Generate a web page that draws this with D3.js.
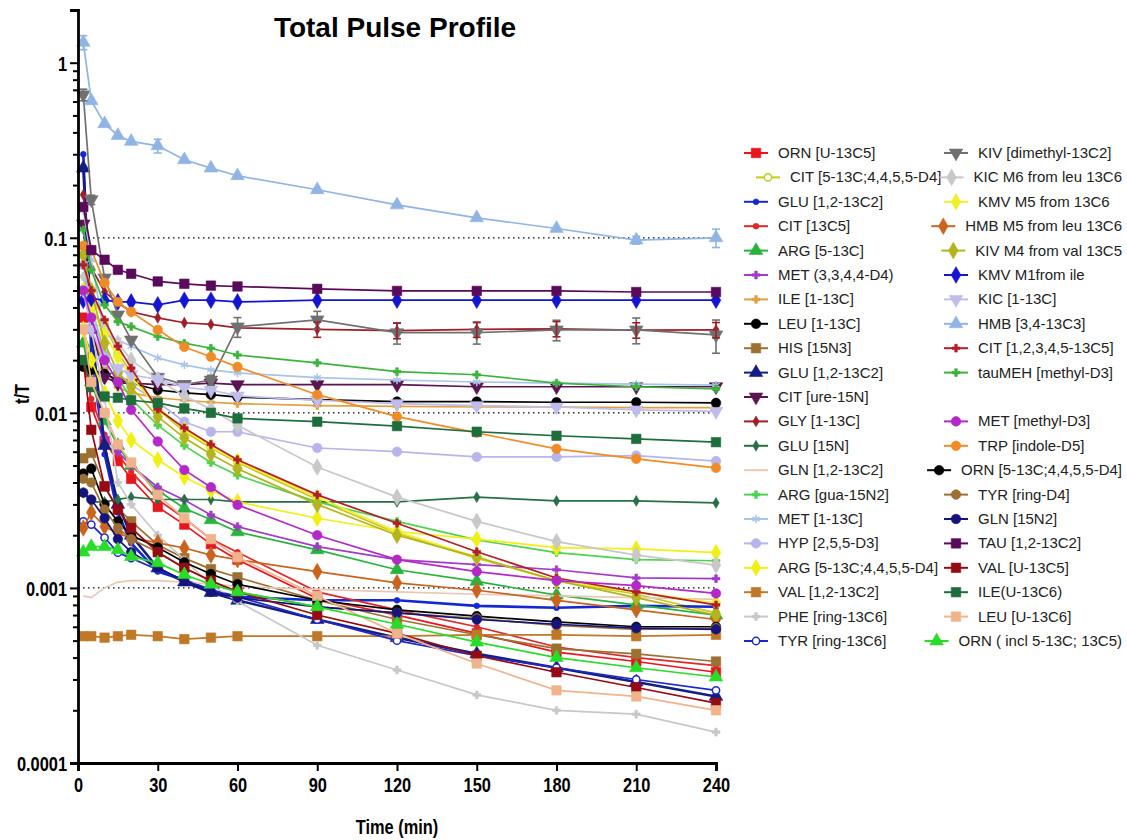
<!DOCTYPE html>
<html>
<head>
<meta charset="utf-8">
<script src="https://cdn.jsdelivr.net/npm/d3@7/dist/d3.min.js"></script>
<style>
  body { margin: 0; background: #fff; }
  text { font-family: 'Liberation Sans', Arial, sans-serif; }
</style>
</head>
<body>
<svg id="chart" width="1127" height="840"></svg>
<script>
const times = [2, 5, 10, 15, 20, 30, 40, 50, 60, 90, 120, 150, 180, 210, 240];
const xTicks = [0, 30, 60, 90, 120, 150, 180, 210, 240];
const yTicks = [0.0001, 0.001, 0.01, 0.1, 1];
const yTickLabels = ['0.0001', '0.001', '0.01', '0.1', '1'];
const refLines = [0.1, 0.01, 0.001];

const seriesNames = [
  'ORN [U-13C5]', 'CIT [5-13C;4,4,5,5-D4]', 'GLU [1,2-13C2]', 'CIT [13C5]',
  'ARG [5-13C]', 'MET (3,3,4,4-D4)', 'ILE [1-13C]', 'LEU [1-13C]',
  'HIS [15N3]', 'GLU [1,2-13C2]', 'CIT [ure-15N]', 'GLY [1-13C]',
  'GLU [15N]', 'GLN [1,2-13C2]', 'ARG [gua-15N2]', 'MET [1-13C]',
  'HYP [2,5,5-D3]', 'ARG [5-13C;4,4,5,5-D4]', 'VAL [1,2-13C2]',
  'PHE [ring-13C6]', 'TYR [ring-13C6]',
  'KIV [dimethyl-13C2]', 'KIC M6 from leu 13C6', 'KMV M5 from 13C6',
  'HMB M5 from leu 13C6', 'KIV M4 from val 13C5', 'KMV M1from ile',
  'KIC [1-13C]', 'HMB [3,4-13C3]', 'CIT [1,2,3,4,5-13C5]',
  'tauMEH [methyl-D3]', 'MET [methyl-D3]', 'TRP [indole-D5]',
  'ORN [5-13C;4,4,5,5-D4]', 'TYR [ring-D4]', 'GLN [15N2]',
  'TAU [1,2-13C2]', 'VAL [U-13C5]', 'ILE(U-13C6)', 'LEU [U-13C6]',
  'ORN ( incl 5-13C; 13C5)',
];

// t/T values, one row per series, same order as seriesNames
const seriesValues = [
  [0.035, 0.0108, 0.0069, 0.0053, 0.0042, 0.0029, 0.0023, 0.00178, 0.00145, 0.00087, 0.0007, 0.00055, 0.00043, 0.00038, 0.00033],
  [0.07, 0.05, 0.032, 0.022, 0.017, 0.0105, 0.0078, 0.0063, 0.0052, 0.0032, 0.00205, 0.00148, 0.0011, 0.00092, 0.00072],
  [0.3, 0.022, 0.0058, 0.0027, 0.0018, 0.00124, 0.00111, 0.00097, 0.00089, 0.00085, 0.00085, 0.00079, 0.00077, 0.00079, 0.00078],
  [0.02, 0.012, 0.0075, 0.0058, 0.0046, 0.0032, 0.0025, 0.0019, 0.0016, 0.00095, 0.00075, 0.0006, 0.00046, 0.0004, 0.00036],
  [0.025, 0.015, 0.009, 0.0065, 0.005, 0.0036, 0.00285, 0.00245, 0.00209, 0.00165, 0.00127, 0.00109, 0.00091, 0.0008, 0.0007],
  [0.03, 0.02, 0.0072, 0.006, 0.005, 0.00376, 0.00318, 0.00261, 0.00224, 0.00172, 0.00145, 0.00136, 0.00127, 0.00114, 0.00113],
  [0.08, 0.03, 0.018, 0.014, 0.013, 0.0122, 0.0118, 0.0115, 0.0113, 0.011, 0.0109, 0.0108, 0.0108, 0.0107, 0.0107],
  [0.0183, 0.0176, 0.0167, 0.0154, 0.0148, 0.0135, 0.013, 0.0127, 0.0123, 0.0119, 0.0116, 0.0116, 0.0115, 0.0115, 0.0114],
  [0.0055, 0.0059, 0.0038, 0.00285, 0.0024, 0.00176, 0.00148, 0.00128, 0.00115, 0.00085, 0.00066, 0.00054, 0.00045, 0.00042, 0.00038],
  [0.25, 0.03, 0.0065, 0.003, 0.002, 0.0013, 0.00108, 0.00094, 0.00085, 0.00066, 0.00052, 0.00042, 0.00035, 0.00029, 0.00024],
  [0.12, 0.03, 0.016, 0.0148, 0.0148, 0.0145, 0.0145, 0.0148, 0.0145, 0.0145, 0.0145, 0.0141, 0.0141, 0.0141, 0.0141],
  [0.176, 0.0674, 0.0491, 0.0425, 0.0378, 0.0349, 0.0327, 0.032, 0.0306, 0.03, 0.0295, 0.03, 0.0302, 0.0297, 0.0298],
  [0.0035, 0.0031, 0.0031, 0.0032, 0.0033, 0.0032, 0.0032, 0.0032, 0.0031, 0.0031, 0.0031, 0.0033, 0.00314, 0.00314, 0.00306],
  [0.0009, 0.00088, 0.001, 0.00108, 0.0011, 0.0011, 0.00108, 0.00105, 0.00102, 0.00098, 0.00095, 0.00092, 0.0009, 0.00088, 0.00086],
  [0.06, 0.04, 0.022, 0.016, 0.012, 0.0085, 0.0065, 0.0052, 0.0044, 0.0031, 0.0024, 0.00188, 0.00159, 0.00145, 0.00143],
  [0.144, 0.075, 0.0279, 0.0261, 0.024, 0.0206, 0.0188, 0.0176, 0.0169, 0.0159, 0.0154, 0.015, 0.0148, 0.0146, 0.0144],
  [0.07, 0.04, 0.021, 0.017, 0.0145, 0.0115, 0.0089, 0.0078, 0.0078, 0.0063, 0.006, 0.0056, 0.0056, 0.0057, 0.0053],
  [0.03, 0.02, 0.013, 0.009, 0.007, 0.0054, 0.0043, 0.0036, 0.0031, 0.0025, 0.0021, 0.0019, 0.0017, 0.00167, 0.00159],
  [0.00053, 0.00053, 0.00052, 0.00053, 0.00054, 0.00053, 0.00051, 0.00052, 0.00053, 0.00053, 0.00053, 0.00054, 0.00054, 0.00053, 0.00054],
  [0.06, 0.03, 0.012, 0.004, 0.003, 0.002, 0.00145, 0.00104, 0.00084, 0.00047, 0.00034, 0.000245, 0.0002, 0.00019, 0.00015],
  [0.0024, 0.0023, 0.00194, 0.00159, 0.00148, 0.00127, 0.00111, 0.00097, 0.00089, 0.00066, 0.0005, 0.00041, 0.00035, 0.0003, 0.00026],
  [0.656, 0.165, 0.059, 0.0363, 0.0261, 0.016, 0.0145, 0.0154, 0.031, 0.034, 0.0287, 0.0287, 0.0298, 0.0298, 0.0279],
  [0.05, 0.04, 0.03, 0.025, 0.02, 0.0155, 0.0125, 0.0105, 0.0085, 0.0049, 0.0033, 0.0024, 0.00184, 0.00154, 0.00135],
  [0.05, 0.04, 0.028, 0.021, 0.016, 0.0108, 0.008, 0.0064, 0.0053, 0.0033, 0.0021, 0.0015, 0.0011, 0.00095, 0.00082],
  [0.0022, 0.0027, 0.00224, 0.00205, 0.00193, 0.00181, 0.00169, 0.00154, 0.00145, 0.00124, 0.00107, 0.00097, 0.00085, 0.00075, 0.00066],
  [0.08, 0.05, 0.025, 0.017, 0.014, 0.0095, 0.0072, 0.0058, 0.0048, 0.003, 0.002, 0.0015, 0.0011, 0.00088, 0.0007],
  [0.044, 0.045, 0.044, 0.043, 0.043, 0.0414, 0.044, 0.044, 0.043, 0.044, 0.044, 0.044, 0.044, 0.044, 0.044],
  [0.05, 0.03, 0.02, 0.018, 0.0165, 0.0155, 0.014, 0.0135, 0.0125, 0.0118, 0.0113, 0.011, 0.0108, 0.0104, 0.0102],
  [1.306, 0.606, 0.448, 0.384, 0.355, 0.335, 0.279, 0.25, 0.226, 0.188, 0.154, 0.13, 0.113, 0.097, 0.1],
  [0.07, 0.05, 0.034, 0.024, 0.018, 0.0105, 0.0082, 0.0066, 0.0054, 0.0034, 0.00234, 0.00161, 0.00114, 0.00095, 0.0008],
  [0.111, 0.0656, 0.0414, 0.0332, 0.0311, 0.0273, 0.025, 0.0234, 0.0214, 0.0193, 0.0172, 0.0165, 0.0148, 0.0141, 0.0137],
  [0.05, 0.035, 0.02, 0.015, 0.0104, 0.00686, 0.00472, 0.00376, 0.00298, 0.002, 0.00145, 0.00124, 0.0011, 0.00103, 0.00093],
  [0.09, 0.0854, 0.0553, 0.043, 0.0378, 0.0298, 0.0238, 0.0209, 0.0183, 0.0127, 0.00952, 0.00769, 0.00623, 0.00546, 0.00485],
  [0.0045, 0.0048, 0.003, 0.0024, 0.002, 0.0017, 0.0014, 0.0012, 0.00105, 0.00085, 0.00075, 0.00069, 0.00064, 0.0006, 0.0006],
  [0.0042, 0.004, 0.0028, 0.0022, 0.0019, 0.0016, 0.0013, 0.0011, 0.00095, 0.00078, 0.00072, 0.00067, 0.00061, 0.00058, 0.00059],
  [0.0035, 0.0032, 0.0025, 0.0019, 0.0016, 0.0013, 0.0011, 0.00095, 0.00088, 0.00078, 0.00072, 0.00066, 0.00062, 0.00059, 0.00058],
  [0.15, 0.085, 0.0749, 0.0656, 0.0623, 0.0563, 0.0546, 0.0533, 0.0527, 0.0511, 0.0497, 0.0497, 0.0497, 0.049, 0.049],
  [0.02, 0.008, 0.0038, 0.0028, 0.0022, 0.0016, 0.0013, 0.0011, 0.00095, 0.0007, 0.00055, 0.00041, 0.00033, 0.00027, 0.00022],
  [0.02, 0.014, 0.0124, 0.0122, 0.0118, 0.0114, 0.0106, 0.01, 0.0093, 0.0089, 0.0084, 0.0078, 0.0074, 0.0071, 0.0068],
  [0.03, 0.015, 0.01, 0.0066, 0.0052, 0.0034, 0.0025, 0.0019, 0.0015, 0.0009, 0.00055, 0.00037, 0.00026, 0.00024, 0.0002],
  [0.0016, 0.00172, 0.00172, 0.00165, 0.00151, 0.00139, 0.00119, 0.00105, 0.00095, 0.00078, 0.00062, 0.00049, 0.0004, 0.00035, 0.00031],
];

// SD shown as error bars for the few series where they are visible
const kivErrors = [0.05, 0.01, 0, 0, 0, 0, 0, 0.001, 0.004, 0.004, 0.004, 0.004, 0.004, 0.005, 0.006];
const hmbErrors = [0.12, 0, 0, 0, 0, 0.03, 0, 0, 0, 0, 0, 0, 0, 0.005, 0.012];
const glyErrors = [0, 0, 0, 0, 0, 0, 0, 0, 0, 0.003, 0.003, 0.003, 0.003, 0.003, 0.003];

// styling
const seriesColors = [
  '#e8141e', '#c8c81e', '#1428d2', '#e02828', '#28b43c', '#a03cc8', '#e0a040',
  '#000000', '#9c7030', '#141e82', '#5a1450', '#a01e28', '#286e46', '#e8c8b4',
  '#50d250', '#a8c4e8', '#b8b4ec', '#f0f014', '#c07828', '#c8c8c8', '#1e28c8',
  '#707070', '#c8c8c8', '#f0f028', '#c8641e', '#b4b41e', '#1414d2', '#c0bcec',
  '#90b4e4', '#b41e28', '#3cb43c', '#b428c8', '#f08c28', '#000000', '#9c7034',
  '#14147c', '#5a0a5a', '#960a14', '#1e6e3c', '#f0b48c', '#28dc28',
];
const seriesShapes = [
  'square', 'open', 'dot', 'dot', 'triangle', 'cross', 'cross',
  'circle', 'square', 'triangle', 'down', 'smalldiamond', 'smalldiamond', 'none',
  'cross', 'star', 'circle', 'diamond', 'square', 'cross', 'open',
  'down', 'diamond', 'diamond', 'diamond', 'diamond', 'diamond', 'down',
  'triangle', 'cross', 'cross', 'circle', 'circle', 'circle', 'circle',
  'circle', 'square', 'square', 'square', 'square', 'triangle',
];

const svg = d3.select('#chart');
const x = d3.scaleLinear().domain([0, 240]).range([78, 716]);
const y = d3.scaleLog().domain([0.0001, 2]).range([763, 10]);

// squeeze bold labels horizontally, the axis font is a narrow face
const narrow = (sel, f = 0.78) => {
  sel.each(function() {
    const len = this.getComputedTextLength();
    d3.select(this)
        .attr('textLength', len * f)
        .attr('lengthAdjust', 'spacingAndGlyphs');
  });
};

const shapeFor = (s) => {
  switch (s) {
    case 'square': return [d3.symbolSquare, 90, 0];
    case 'triangle': return [d3.symbolTriangle, 80, 0];
    case 'down': return [d3.symbolTriangle, 80, 180];
    case 'diamond': return [d3.symbolDiamond, 80, 0];
    case 'smalldiamond': return [d3.symbolDiamond, 34, 0];
    case 'cross': return [d3.symbolCross, 34, 0];
    case 'star': return [d3.symbolAsterisk, 48, 0];
    case 'dot': return [d3.symbolCircle, 26, 0];
    case 'open': return [d3.symbolCircle, 42, 0];
    default: return [d3.symbolCircle, 72, 0];
  }
};

const drawMarker = (g, s, color, cx, cy) => {
  if (s === 'none') return;
  const [type, size, rot] = shapeFor(s);
  const open = s === 'open';
  const stroked = s === 'star';
  g.append('path')
      .attr('d', d3.symbol().type(type).size(size)())
      .attr('transform', `translate(${cx},${cy}) rotate(${rot})`)
      .attr('fill', open ? '#fff' : (stroked ? 'none' : color))
      .attr('stroke', color)
      .attr('stroke-width', open || stroked ? 1.5 : 0.6);
};

// dotted reference lines
svg.append('g').selectAll('line')
    .data(refLines)
    .join('line')
    .attr('x1', x(0)).attr('x2', x(240))
    .attr('y1', (d) => y(d)).attr('y2', (d) => y(d))
    .attr('stroke', '#000')
    .attr('stroke-width', 1.3)
    .attr('stroke-dasharray', '1.5,3.5');

// series lines and markers
const plot = svg.append('g');
const line = d3.line()
    .x((d, i) => x(times[i]))
    .y((d) => y(d));
const thick = ['GLU [1,2-13C2]'];

seriesValues.forEach((vals, k) => {
  const color = seriesColors[k];
  const g = plot.append('g');
  g.append('path')
      .datum(vals)
      .attr('d', line)
      .attr('fill', 'none')
      .attr('stroke', color)
      .attr('stroke-width', thick.includes(seriesNames[k]) ? 2.6 : 1.7);
  vals.forEach((v, i) => drawMarker(g, seriesShapes[k], color, x(times[i]), y(v)));
});

// error bars
const drawErrors = (vals, errs, color) => {
  const g = plot.append('g').attr('stroke', color).attr('stroke-width', 1.6);
  errs.forEach((e, i) => {
    if (!e) return;
    const cx = x(times[i]);
    const lo = y(Math.max(vals[i] - e, 0.0001));
    const hi = y(vals[i] + e);
    g.append('line').attr('x1', cx).attr('x2', cx).attr('y1', lo).attr('y2', hi);
    g.append('line').attr('x1', cx - 4).attr('x2', cx + 4).attr('y1', lo).attr('y2', lo);
    g.append('line').attr('x1', cx - 4).attr('x2', cx + 4).attr('y1', hi).attr('y2', hi);
  });
};
drawErrors(seriesValues[21], kivErrors, '#707070');
drawErrors(seriesValues[28], hmbErrors, '#90b4e4');
drawErrors(seriesValues[11], glyErrors, '#a01e28');

// axes
const minorTicks = [];
yTicks.forEach((d) => {
  for (let m = 2; m <= 9; m++) {
    if (d * m <= 2) minorTicks.push(d * m);
  }
});

const yMinor = svg.append('g')
    .attr('transform', `translate(${x(0)},0)`)
    .call(d3.axisLeft(y).tickValues(minorTicks).tickSize(5).tickFormat(''));
const yAxis = svg.append('g')
    .attr('transform', `translate(${x(0)},0)`)
    .call(d3.axisLeft(y).tickValues(yTicks).tickSize(8)
        .tickFormat((d, i) => yTickLabels[i]));
const xAxis = svg.append('g')
    .attr('transform', `translate(0,${y(0.0001)})`)
    .call(d3.axisBottom(x).tickValues(xTicks).tickSize(8));

[yMinor, yAxis, xAxis].forEach((a) => {
  a.select('.domain').attr('stroke-width', 2.8);
  a.selectAll('.tick line').attr('stroke-width', 2);
  a.selectAll('.tick text')
      .attr('font-size', 21)
      .attr('font-weight', 'bold')
      .attr('fill', '#000')
      .call(narrow);
});
yMinor.select('.domain').remove();
yAxis.selectAll('.tick text').attr('dy', '0.36em');
xAxis.selectAll('.tick text').attr('dy', '0.85em');

// titles
svg.append('text')
    .attr('x', 395).attr('y', 37)
    .attr('text-anchor', 'middle')
    .attr('font-size', 28)
    .attr('font-weight', 'bold')
    .text('Total Pulse Profile');
svg.append('text')
    .attr('x', 397).attr('y', 834)
    .attr('text-anchor', 'middle')
    .attr('font-size', 21)
    .attr('font-weight', 'bold')
    .text('Time (min)')
    .call(narrow);
svg.append('text')
    .attr('transform', 'translate(29,394) rotate(-90)')
    .attr('text-anchor', 'middle')
    .attr('font-size', 21)
    .attr('font-weight', 'bold')
    .text('t/T')
    .call(narrow);

// legend: 21 entries on the left, 20 on the right (right skips row 10);
// right-column entries slide left when the label would run off the edge
const legend = svg.append('g');
seriesNames.forEach((name, k) => {
  const left = k < 21;
  const row = left ? k : (k - 21 < 10 ? k - 21 : k - 20);
  const ly = 153 + row * 24.4;
  const g = legend.append('g');
  const label = g.append('text')
      .attr('y', ly + 5)
      .attr('font-size', 15)
      .attr('fill', '#222')
      .text(name);
  let tx = left ? 778 + (k === 1 ? 12 : 0) : 978;
  if (!left) tx = Math.min(tx, 1122 - label.node().getComputedTextLength());
  label.attr('x', tx);
  const x0 = tx - 34;
  g.append('line')
      .attr('x1', x0).attr('x2', x0 + 24)
      .attr('y1', ly).attr('y2', ly)
      .attr('stroke', seriesColors[k])
      .attr('stroke-width', 2);
  drawMarker(g, seriesShapes[k], seriesColors[k], x0 + 12, ly);
});
</script>
</body>
</html>
